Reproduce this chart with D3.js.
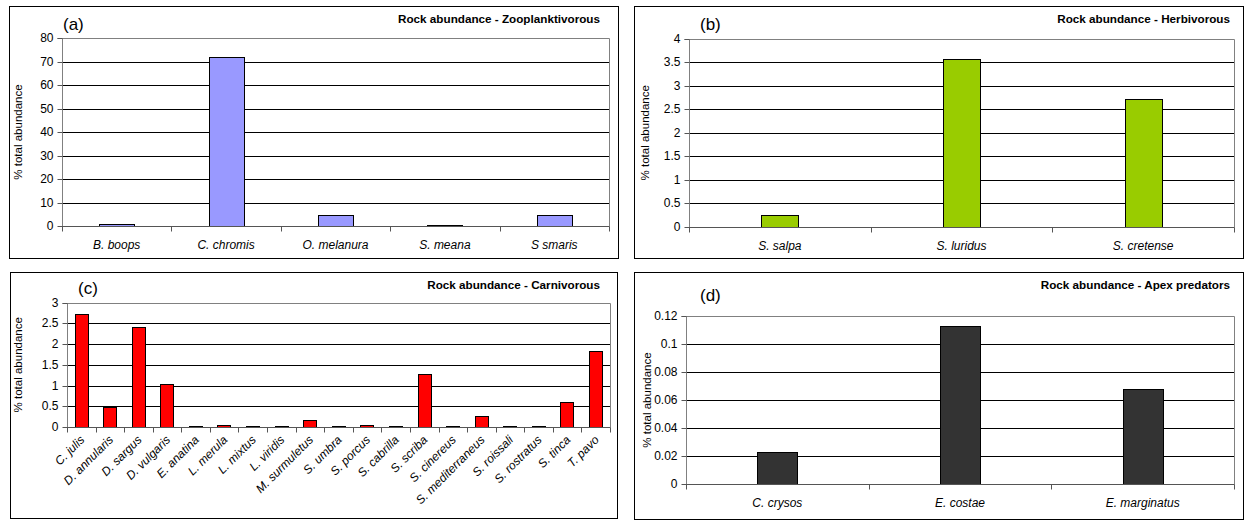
<!DOCTYPE html>
<html>
<head>
<meta charset="utf-8">
<script src="https://cdn.jsdelivr.net/npm/d3@7"></script>
<style>
  html, body { margin: 0; padding: 0; background: #fff; }
  svg { display: block; font-family: "Liberation Sans", Arial, sans-serif; }
</style>
</head>
<body>
<svg id="chart" width="1245" height="521"></svg>
<script>
// Rock abundance per trophic group (% of total abundance)
const zooCategories = ["B. boops", "C. chromis", "O. melanura", "S. meana", "S smaris"];
const zooValues = [0.7, 72, 4.5, 0.3, 4.8];
const zooTicks = [0, 10, 20, 30, 40, 50, 60, 70, 80];

const herbCategories = ["S. salpa", "S. luridus", "S. cretense"];
const herbValues = [0.25, 3.58, 2.73];
const herbTicks = [0, 0.5, 1, 1.5, 2, 2.5, 3, 3.5, 4];

const carnCategories = ["C. julis", "D. annularis", "D. sargus", "D. vulgaris", "E. anatina",
  "L. merula", "L. mixtus", "L. viridis", "M. surmuletus", "S. umbra", "S. porcus",
  "S. cabrilla", "S. scriba", "S. cinereus", "S. mediterraneus", "S. roissali",
  "S. rostratus", "S. tinca", "T. pavo"];
const carnValues = [2.73, 0.47, 2.4, 1.04, 0.02, 0.05, 0.02, 0.02, 0.17, 0.02, 0.05,
  0.02, 1.27, 0.02, 0.27, 0.03, 0.03, 0.6, 1.83];
const carnTicks = [0, 0.5, 1, 1.5, 2, 2.5, 3];

const apexCategories = ["C. crysos", "E. costae", "E. marginatus"];
const apexValues = [0.023, 0.113, 0.068];
const apexTicks = [0, 0.02, 0.04, 0.06, 0.08, 0.1, 0.12];

const svg = d3.select("#chart");

function drawPanel(p) {
  const g = svg.append("g");

  // outer frame
  g.append("rect")
    .attr("x", p.frame[0] + 0.5).attr("y", p.frame[1] + 0.5)
    .attr("width", p.frame[2]).attr("height", p.frame[3])
    .attr("fill", "#fff").attr("stroke", "#000").attr("stroke-width", 1);

  const x = d3.scaleBand().domain(p.categories).range([p.plot.l, p.plot.r]).paddingInner(0).paddingOuter(0);
  const y = d3.scaleLinear().domain([p.ticks[0], p.ticks[p.ticks.length - 1]]).range([p.plot.b, p.plot.t]);

  // horizontal gridlines
  g.append("g").selectAll("line").data(p.ticks.slice(1)).join("line")
    .attr("x1", p.plot.l).attr("x2", p.plot.r)
    .attr("y1", d => Math.round(y(d)) + 0.5).attr("y2", d => Math.round(y(d)) + 0.5)
    .attr("stroke", "#000").attr("stroke-width", 1);

  // plot area border (top & right)
  const top = Math.round(p.plot.t) + 0.5, right = Math.round(p.plot.r) + 0.5;
  g.append("path")
    .attr("d", `M${p.plot.l},${top}H${right}V${Math.round(p.plot.b) + 0.5}`)
    .attr("fill", "none").attr("stroke", "#808080").attr("stroke-width", 1);

  // bars
  const bw = x.bandwidth() * p.barRatio;
  g.append("g").selectAll("rect").data(p.values).join("rect")
    .attr("x", (d, i) => Math.round(x(p.categories[i]) + (x.bandwidth() - bw) / 2) + 0.5)
    .attr("y", d => Math.round(y(d)) + 0.5)
    .attr("width", Math.round(bw))
    .attr("height", d => Math.max(0, Math.round(y(0)) - Math.round(y(d))))
    .attr("fill", p.color).attr("stroke", "#000").attr("stroke-width", 1);

  // y axis
  const yAxis = d3.axisLeft(y).tickValues(p.ticks).tickSize(5).tickPadding(4).tickFormat(d => String(d));
  const ya = g.append("g").attr("transform", `translate(${Math.round(p.plot.l) + 0.5},0.5)`).call(yAxis);
  ya.select(".domain").attr("stroke", "#808080").attr("d", `M-5,${Math.round(y(p.ticks[p.ticks.length-1]))}H0V${Math.round(y(0))}`);
  ya.selectAll(".tick line").attr("stroke", "#555");
  ya.selectAll(".tick text").attr("font-size", 12).attr("fill", "#000")
    .attr("font-family", "'Liberation Sans', Arial, sans-serif");
  ya.selectAll(".tick").attr("transform", d => `translate(0,${Math.round(y(d))})`);

  // x axis line and category separators
  const zeroY = Math.round(y(0)) + 0.5;
  g.append("line").attr("x1", p.plot.l).attr("x2", p.plot.r + 0.5)
    .attr("y1", zeroY).attr("y2", zeroY).attr("stroke", "#555");
  const seps = p.categories.map(c => x(c)).concat([p.plot.r]);
  g.append("g").selectAll("line").data(seps).join("line")
    .attr("x1", d => Math.round(d) + 0.5).attr("x2", d => Math.round(d) + 0.5)
    .attr("y1", zeroY).attr("y2", zeroY + 5).attr("stroke", "#555");

  // category labels
  const lab = g.append("g").selectAll("text").data(p.categories).join("text")
    .attr("font-size", 12).attr("font-style", "italic").attr("fill", "#000");
  if (p.rotate) {
    lab.attr("text-anchor", "end")
      .attr("transform", d => `translate(${x(d) + x.bandwidth() / 2 + 4},${zeroY + 13}) rotate(-45)`)
      .text(d => d);
  } else {
    lab.attr("text-anchor", "middle")
      .attr("x", d => x(d) + x.bandwidth() / 2).attr("y", zeroY + p.labelDy)
      .text(d => d);
  }

  // y axis title
  g.append("text")
    .attr("transform", `translate(${p.yTitleX},${(p.plot.t + p.plot.b) / 2}) rotate(-90)`)
    .attr("text-anchor", "middle").attr("font-size", 11.5).attr("fill", "#000")
    .text("% total abundance");

  // chart title
  g.append("text").attr("x", p.titleX).attr("y", p.titleY)
    .attr("text-anchor", "end").attr("font-size", 11.7).attr("font-weight", "bold").attr("fill", "#000")
    .text(p.title);

  // panel letter
  g.append("text").attr("x", p.letterX).attr("y", p.letterY)
    .attr("font-size", 17).attr("fill", "#000").text(p.letter);
}

drawPanel({
  frame: [9, 6, 609, 252], plot: { l: 62, t: 38, r: 609, b: 226 },
  categories: zooCategories, values: zooValues, ticks: zooTicks,
  color: "#9999ff", barRatio: 0.32, labelDy: 22,
  yTitleX: 22, title: "Rock abundance - Zooplanktivorous", titleX: 600, titleY: 23,
  letter: "(a)", letterX: 63, letterY: 30
});

drawPanel({
  frame: [634, 6, 609, 252], plot: { l: 689, t: 39, r: 1234, b: 226.5 },
  categories: herbCategories, values: herbValues, ticks: herbTicks,
  color: "#99cc00", barRatio: 0.205, labelDy: 22,
  yTitleX: 649, title: "Rock abundance - Herbivorous", titleX: 1230, titleY: 23,
  letter: "(b)", letterX: 700, letterY: 30
});

drawPanel({
  frame: [10, 272, 607, 246], plot: { l: 67, t: 302.5, r: 610, b: 427 },
  categories: carnCategories, values: carnValues, ticks: carnTicks,
  color: "#ff0000", barRatio: 0.47, rotate: true,
  yTitleX: 22, title: "Rock abundance - Carnivorous", titleX: 600, titleY: 289,
  letter: "(c)", letterX: 78, letterY: 294
});

drawPanel({
  frame: [634, 272, 609, 247], plot: { l: 686, t: 316, r: 1234, b: 484 },
  categories: apexCategories, values: apexValues, ticks: apexTicks,
  color: "#333333", barRatio: 0.22, labelDy: 22,
  yTitleX: 651, title: "Rock abundance - Apex predators", titleX: 1230, titleY: 289,
  letter: "(d)", letterX: 700, letterY: 301
});
</script>
</body>
</html>
